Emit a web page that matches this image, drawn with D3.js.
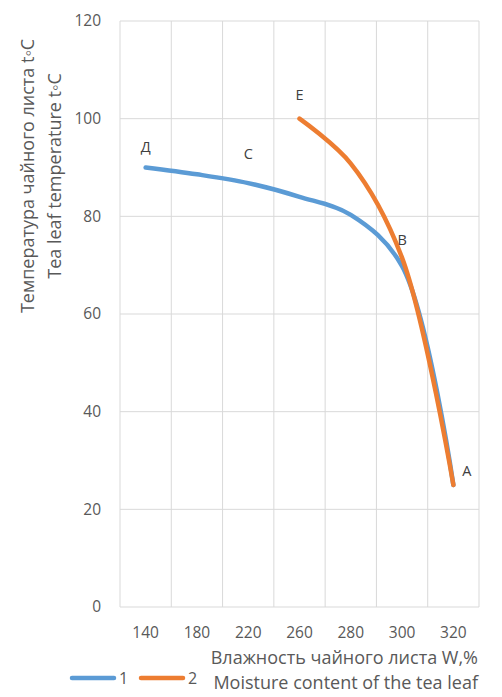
<!DOCTYPE html>
<html>
<head>
<meta charset="utf-8">
<script src="https://cdn.jsdelivr.net/npm/d3@7"></script>
<style>
  body { margin: 0; background: #fff; }
  svg { display: block; }
  text { font-family: "Open Sans", "Liberation Sans", sans-serif; }
</style>
</head>
<body>
<svg id="chart" width="502" height="697"></svg>
<script>
const categories = ["140", "180", "220", "260", "280", "300", "320"];
const series1 = [90, 88.6, 86.8, 84, 80.3, 69.8, 25];
const series2 = [null, null, null, 100, 90.8, 71.5, 25];
const yTicks = [0, 20, 40, 60, 80, 100, 120];
const seriesNames = ["1", "2"];
const pointLabels = [
  { series: 0, cat: "140", text: "Д" },
  { series: 0, cat: "220", text: "C" },
  { series: 1, cat: "260", text: "E" },
  { series: 1, cat: "300", text: "B" },
  { series: 1, cat: "320", text: "A" }
];
const yTitle = ["Температура чайного листа t\u25E6C", "Tea leaf temperature t\u25E6C"];
const xTitle = ["Влажность чайного листа W,%", "Moisture content of the tea leaf"];

const colors = ["#5B9BD5", "#ED7D31"];
const svg = d3.select("#chart");
const m = { left: 120, right: 479, top: 21, bottom: 607 };

const x = d3.scaleBand().domain(categories).range([m.left, m.right]).padding(0);
const y = d3.scaleLinear().domain([0, 120]).range([m.bottom, m.top]);
const cx = c => x(c) + x.bandwidth() / 2;

// gridlines
const g = svg.append("g");
g.selectAll("line.h").data(yTicks).enter().append("line")
  .attr("x1", m.left).attr("x2", m.right)
  .attr("y1", d => y(d)).attr("y2", d => y(d))
  .attr("stroke", "#D9D9D9").attr("stroke-width", 1);
const vEdges = categories.map(c => x(c)).concat([m.right]);
g.selectAll("line.v").data(vEdges).enter().append("line")
  .attr("x1", d => d).attr("x2", d => d)
  .attr("y1", m.top).attr("y2", m.bottom)
  .attr("stroke", "#D9D9D9").attr("stroke-width", 1);

// y ticks
svg.selectAll("text.yt").data(yTicks).enter().append("text")
  .attr("x", 101).attr("y", d => y(d)).attr("dy", "0.35em")
  .attr("text-anchor", "end").attr("font-size", 15.5).attr("fill", "#595959")
  .text(d => d);

// x ticks
svg.selectAll("text.xt").data(categories).enter().append("text")
  .attr("x", d => cx(d)).attr("y", 633).attr("dy", "0.35em")
  .attr("text-anchor", "middle").attr("font-size", 15.5).attr("fill", "#595959")
  .text(d => d);

// lines
const line = d3.line()
  .defined(d => d.v !== null)
  .x(d => cx(d.c)).y(d => y(d.v))
  .curve(d3.curveCatmullRom.alpha(0.5));
[series1, series2].forEach((s, i) => {
  const data = categories.map((c, k) => ({ c: c, v: s[k] }));
  svg.append("path").datum(data)
    .attr("d", line).attr("fill", "none")
    .attr("stroke", colors[i]).attr("stroke-width", 4.5)
    .attr("stroke-linecap", "round").attr("stroke-linejoin", "round");
});

// point labels
const lblOff = { "Д": [0, -21], "C": [0, -29], "E": [0, -24], "B": [0, -18], "A": [9, -14] };
pointLabels.forEach(p => {
  const s = p.series === 0 ? series1 : series2;
  const v = s[categories.indexOf(p.cat)];
  const o = lblOff[p.text];
  svg.append("text")
    .attr("x", cx(p.cat) + o[0]).attr("y", y(v) + o[1]).attr("dy", "0.35em")
    .attr("text-anchor", p.text === "A" ? "start" : "middle")
    .attr("font-size", 14.5).attr("fill", "#404040").text(p.text);
});

// y title
yTitle.forEach((t, i) => {
  svg.append("text")
    .attr("transform", `translate(${28 + i * 27},176) rotate(-90)`)
    .attr("dy", "0.35em").attr("text-anchor", "middle")
    .attr("font-size", 18).attr("fill", "#595959").text(t);
});

// x title
xTitle.forEach((t, i) => {
  svg.append("text")
    .attr("x", 478).attr("y", 658 + i * 25).attr("dy", "0.35em")
    .attr("text-anchor", "end").attr("font-size", 18).attr("fill", "#595959").text(t);
});

// legend
const legX = [72, 141];
seriesNames.forEach((n, i) => {
  svg.append("line")
    .attr("x1", legX[i]).attr("x2", legX[i] + 42)
    .attr("y1", 678).attr("y2", 678)
    .attr("stroke", colors[i]).attr("stroke-width", 4.5).attr("stroke-linecap", "round");
  svg.append("text")
    .attr("x", legX[i] + 47).attr("y", 678).attr("dy", "0.35em")
    .attr("font-size", 16).attr("fill", "#595959").text(n);
});
</script>
</body>
</html>
